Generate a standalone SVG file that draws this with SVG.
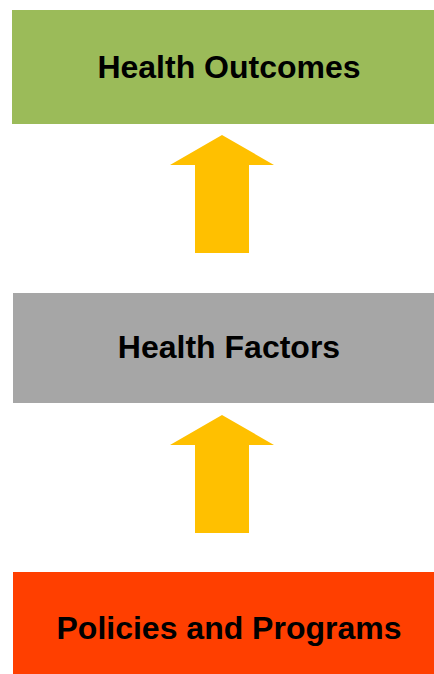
<svg xmlns="http://www.w3.org/2000/svg" width="434" height="674" viewBox="0 0 434 674">
<style>
.lbl{font-family:"Liberation Sans",Arial,sans-serif;font-weight:bold;font-size:32px;fill:#000;text-anchor:middle}
.arrow{fill:#FFC000}
</style>
<rect x="0" y="0" width="434" height="674" fill="#fff"/>
<g id="health-outcomes">
<rect x="12" y="10" width="422" height="114" fill="#9BBB59"/>
<text class="lbl" x="229" y="78">Health Outcomes</text>
</g>
<g id="health-factors">
<rect x="13" y="293" width="421" height="110" fill="#A6A6A6"/>
<text class="lbl" x="229" y="358">Health Factors</text>
</g>
<g id="policies-programs">
<rect x="13" y="572" width="421" height="102" fill="#FF3F00"/>
<text class="lbl" x="229" y="639">Policies and Programs</text>
</g>
<g id="connectors">
<polygon class="arrow" points="222,135 274,165 249,165 249,253 195,253 195,165 170,165"/>
<polygon class="arrow" points="222,415 274,445 249,445 249,533 195,533 195,445 170,445"/>
</g>
</svg>
